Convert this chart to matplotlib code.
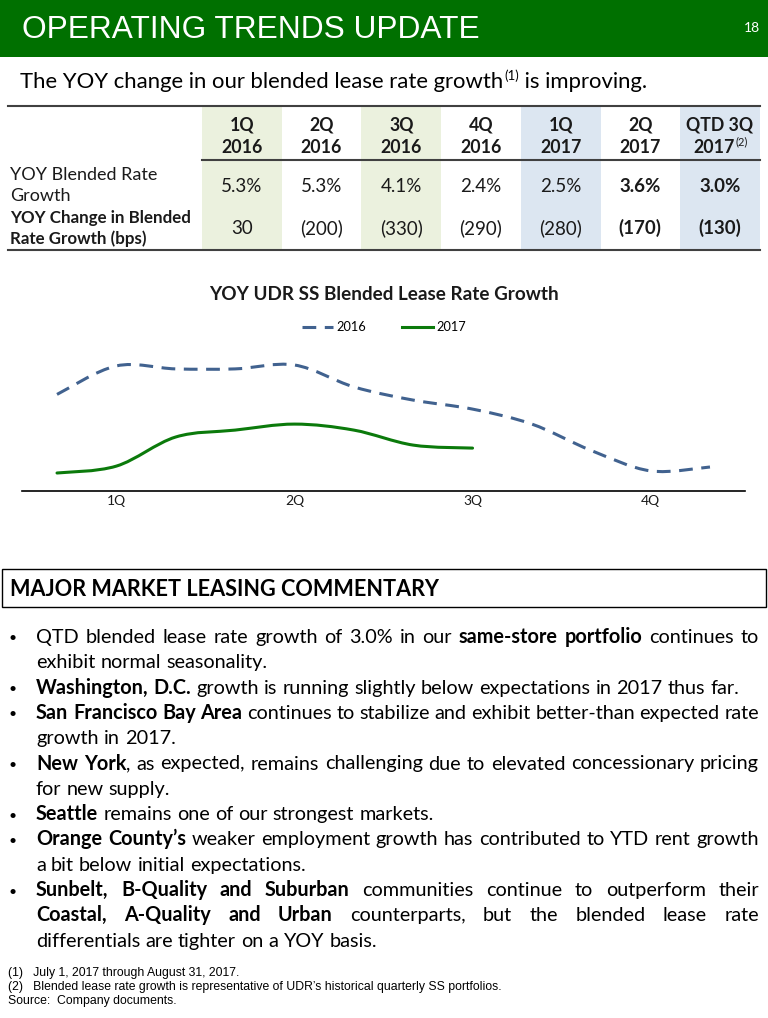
import matplotlib
matplotlib.use('Agg')
import matplotlib.pyplot as plt
from matplotlib.path import Path
from matplotlib.patches import PathPatch, Rectangle
from matplotlib.lines import Line2D
from matplotlib import font_manager

W, H = 768, 1018

# ---- data ----
quarters = ['1Q', '2Q', '3Q', '4Q']
rate_2016 = [4.72, 5.67, 5.57, 5.57, 5.70, 4.97, 4.53, 4.23, 3.73, 2.85, 2.17, 2.30]
rate_2017 = [2.10, 2.33, 3.30, 3.53, 3.73, 3.53, 3.03, 2.93]

col_top = ['1Q', '2Q', '3Q', '4Q', '1Q', '2Q', 'QTD 3Q']
col_bottom = ['2016', '2016', '2016', '2016', '2017', '2017', '2017']
blended_growth = ['5.3%', '5.3%', '4.1%', '2.4%', '2.5%', '3.6%', '3.0%']
change_bps = ['30', '(200)', '(330)', '(290)', '(280)', '(170)', '(130)']
col_shading = ['#EBF1DE', None, '#EBF1DE', None, '#DCE6F1', None, '#DCE6F1']

bullets = [
    [[('QTD blended lease rate growth of 3.0% in our ', 0), ('same-store portfolio', 1), (' continues to', 0)],
     [('exhibit normal seasonality.', 0)]],
    [[('Washington,  D.C.', 1), (' growth is running slightly below expectations in 2017 thus far.', 0)]],
    [[('San Francisco Bay Area', 1), (' continues to stabilize and exhibit better-than expected rate', 0)],
     [('growth in 2017.', 0)]],
    [[('New York', 1), (', as expected, remains challenging due to elevated concessionary pricing', 0)],
     [('for new supply.', 0)]],
    [[('Seattle', 1), (' remains one of our strongest markets.', 0)]],
    [[('Orange County\u2019s', 1), (' weaker employment growth has contributed to YTD rent growth', 0)],
     [('a bit below initial expectations.', 0)]],
    [[('Sunbelt, B-Quality and Suburban', 1), (' communities continue to outperform their', 0)],
     [('Coastal, A-Quality and Urban', 1), (' counterparts, but the blended lease rate', 0)],
     [('differentials are tighter on a YOY basis.', 0)]],
]

footnotes = ['(1)   July 1, 2017 through August 31, 2017.',
             '(2)   Blended lease rate growth is representative of UDR\u2019s historical quarterly SS portfolios.',
             'Source:  Company documents.']

# ---- fonts ----
installed = {f.name for f in font_manager.fontManager.ttflist}
BODY = 'Lato'
HEAD = 'Liberation Sans'
NARROW = 'Liberation Sans Narrow' if 'Liberation Sans Narrow' in installed else 'Liberation Sans'

GREEN = '#007000'
DARK = '#1a1a1a'

fig = plt.figure(figsize=(W / 100, H / 100), dpi=100)
page = fig.add_axes([0, 0, 1, 1])
page.set_xlim(0, W)
page.set_ylim(H, 0)
page.axis('off')
renderer = fig.canvas.get_renderer()


def text_width(s, **kw):
    t = page.text(0, 0, s, **kw)
    w = t.get_window_extent(renderer).width
    t.remove()
    return w


# header band
page.add_patch(Rectangle((0, 0), W, 57, color=GREEN, lw=0))
page.text(22, 30, 'OPERATING TRENDS UPDATE', color='white', fontsize=22.8,
          family=HEAD, va='center', ha='left')
page.text(752, 28, '18', color='white', fontsize=10, family=BODY, va='center', ha='center')

# subtitle with superscript
sub_kw = dict(fontsize=15.9, family=BODY, color='black', va='baseline')
x = 20
base = 88
s1 = 'The YOY change in our blended lease rate growth'
page.text(x, base, s1, **sub_kw)
x += text_width(s1, **sub_kw)
sup_kw = dict(fontsize=9.5, family=BODY, color='black', va='baseline')
page.text(x + 1, base - 8, '(1)', **sup_kw)
x += text_width('(1)', **sup_kw) + 1
page.text(x, base, ' is improving.', **sub_kw)

# ---- table ----
col_x0, col_w = 202, 79.7
for i, shade in enumerate(col_shading):
    if shade:
        page.add_patch(Rectangle((col_x0 + i * col_w, 106), col_w, 144, color=shade, lw=0))
page.plot([8, 760], [106, 106], color='#404040', lw=1.5)
page.plot([col_x0, 760], [160, 160], color='#404040', lw=1.5)
page.plot([8, 760], [250, 250], color='#404040', lw=1.5)

hkw = dict(fontsize=12.8, family=BODY, color=DARK, ha='center', va='center', fontweight='bold')
vkw = dict(fontsize=13.5, family=BODY, color=DARK, ha='center', va='center')
for i in range(len(col_top)):
    cx = col_x0 + col_w * (i + 0.5)
    page.text(cx, 125, col_top[i], **hkw)
    if i == len(col_top) - 1:
        page.text(cx - 6, 147, col_bottom[i], **hkw)
        wb = text_width(col_bottom[i], fontsize=12.8, family=BODY, fontweight='bold')
        page.text(cx - 6 + wb / 2 + 0.5, 142, '(2)', fontsize=8, family=BODY,
                  color=DARK, ha='left', va='center')
    else:
        page.text(cx, 147, col_bottom[i], **hkw)
    wt = 'bold' if i >= 5 else 'normal'
    page.text(cx, 186, blended_growth[i], fontweight=wt, **vkw)
    page.text(cx, 228, change_bps[i], fontweight=wt, **vkw)

lkw = dict(family=BODY, color=DARK, ha='left', va='center')
page.text(10, 175, 'YOY Blended Rate', fontsize=13, **lkw)
page.text(10, 196, 'Growth', fontsize=13, **lkw)
page.text(10, 218, 'YOY Change in Blended', fontsize=12.2, fontweight='bold', **lkw)
page.text(10, 239, 'Rate Growth (bps)', fontsize=12.2, fontweight='bold', **lkw)

# ---- chart ----
page.text(384, 295, 'YOY UDR SS Blended Lease Rate Growth', fontsize=13.6, family=BODY,
          fontweight='bold', color=DARK, ha='center', va='center')

ax = fig.add_axes([22 / W, 1 - 491 / H, 723 / W, 150 / H])
ax.set_xlim(-0.59, 11.59)
ax.set_ylim(1.5, 6.5)
for side in ['top', 'right', 'left']:
    ax.spines[side].set_visible(False)
ax.spines['bottom'].set_color('black')
ax.spines['bottom'].set_linewidth(1.2)
ax.set_yticks([])
ax.set_xticks([3 * q + 1 for q in range(len(quarters))])
ax.set_xticklabels(quarters, fontsize=10, family=BODY, color=DARK)
ax.tick_params(axis='x', length=0, pad=3)
ax.patch.set_alpha(0)


def smooth_path(ys):
    # Bezier curve through each point, like a spreadsheet "smoothed line"
    pts = list(enumerate(ys))
    n = len(pts)
    verts = [pts[0]]
    codes = [Path.MOVETO]
    for i in range(n - 1):
        p0 = pts[max(i - 1, 0)]
        p1 = pts[i]
        p2 = pts[i + 1]
        p3 = pts[min(i + 2, n - 1)]
        c1 = (p1[0] + (p2[0] - p0[0]) / 6, p1[1] + (p2[1] - p0[1]) / 6)
        c2 = (p2[0] - (p3[0] - p1[0]) / 6, p2[1] - (p3[1] - p1[1]) / 6)
        verts += [c1, c2, p2]
        codes += [Path.CURVE4] * 3
    return Path(verts, codes)


c16 = '#41628F'
c17 = '#0B7A0B'
ax.add_patch(PathPatch(smooth_path(rate_2016), fill=False, edgecolor=c16, lw=2.2,
                       linestyle=(0, (4.5, 2.8)), capstyle='butt'))
ax.add_patch(PathPatch(smooth_path(rate_2017), fill=False, edgecolor=c17, lw=2.2,
                       capstyle='round'))
handles = [Line2D([], [], color=c16, lw=2.2, linestyle=(0, (4.5, 2.8))),
           Line2D([], [], color=c17, lw=2.2)]
fig.legend(handles, ['2016', '2017'], loc='center', bbox_to_anchor=(384 / W, 1 - 327 / H),
           ncol=2, frameon=False, prop={'family': BODY, 'size': 9.2},
           handlelength=2.4, handletextpad=0.3, columnspacing=2.8)

# ---- commentary ----
page.add_patch(Rectangle((2, 569), 764, 38, fill=False, edgecolor='black', lw=1))
page.text(10, 589, 'MAJOR MARKET LEASING COMMENTARY', fontsize=15.6, family=BODY,
          fontweight='bold', color='black', ha='left', va='center')

BFS = 14.3
left, right = 36, 759
space = text_width('a a', fontsize=BFS, family=BODY) - text_width('aa', fontsize=BFS, family=BODY)
line_no = 0
for para in bullets:
    for j, segs in enumerate(para):
        y = 643 + 25.3 * line_no
        if j == 0:
            page.text(13, y - 4.5, '\u2022', fontsize=10, family=BODY, ha='center', va='center')
        # words are lists of (piece, bold) so punctuation stays glued to bold runs
        words = []
        new_word = True
        for txt, b in segs:
            for k, p in enumerate(txt.split(' ')):
                if k > 0:
                    new_word = True
                if p == '':
                    continue
                if new_word or not words:
                    words.append([(p, b)])
                else:
                    words[-1].append((p, b))
                new_word = False
        widths = [[text_width(p, fontsize=BFS, family=BODY,
                              fontweight='bold' if b else 'normal') for p, b in wd]
                  for wd in words]
        total = sum(sum(w) for w in widths)
        last = j == len(para) - 1
        if last or len(words) < 2:
            gap = space
        else:
            gap = (right - left - total) / (len(words) - 1)
        xx = left
        for wd, ws in zip(words, widths):
            for (p, b), w in zip(wd, ws):
                page.text(xx, y, p, fontsize=BFS, family=BODY,
                          fontweight='bold' if b else 'normal',
                          color='black', ha='left', va='baseline')
                xx += w
            xx += gap
        line_no += 1

for k, fn in enumerate(footnotes):
    page.text(8, 973 + 14 * k, fn, fontsize=8.8, family=NARROW, color='black',
              ha='left', va='center')

fig.savefig('out.png', dpi=100)
